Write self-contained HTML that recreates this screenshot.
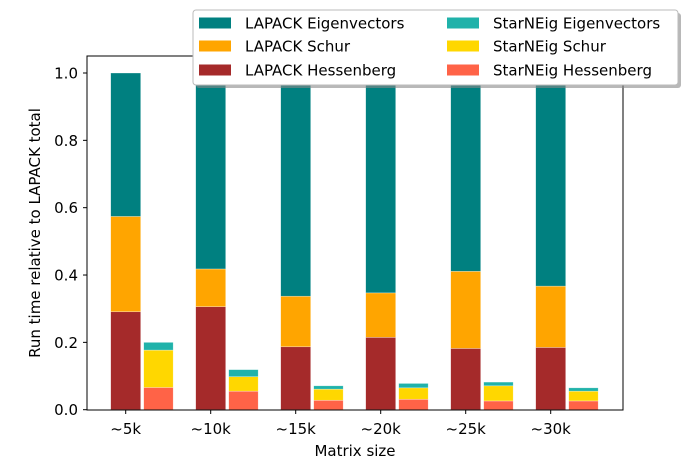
<!DOCTYPE html>
<html><head><meta charset="utf-8"><style>
body{margin:0;background:#fff;}
svg text{font-family:"DejaVu Sans","Liberation Sans",sans-serif;fill:#000;}
</style></head><body>
<svg id="chart" width="692" height="461" viewBox="0 0 692 461" xmlns="http://www.w3.org/2000/svg">
<g id="bars"></g>
<rect x="87" y="56" width="536" height="354" fill="none" stroke="#000" stroke-width="1"/>
<g id="axes"></g>
<text x="355" y="456" text-anchor="middle" font-size="15">Matrix size</text>
<text transform="translate(40,233) rotate(-90)" text-anchor="middle" font-size="15">Run time relative to LAPACK total</text>
<g id="legend"></g>
</svg>
<script>
const categories = ["~5k","~10k","~15k","~20k","~25k","~30k"];
const lapackHess = [0.291,0.306,0.187,0.215,0.182,0.185];
const lapackSchurTop = [0.574,0.418,0.337,0.347,0.411,0.367];
const lapackEigTop = [1.0,1.0,1.0,1.0,1.0,1.0];
const starHess = [0.066,0.055,0.028,0.031,0.026,0.026];
const starSchurTop = [0.177,0.098,0.061,0.065,0.071,0.055];
const starEigTop = [0.200,0.119,0.071,0.078,0.082,0.065];
const yTicks = [0,0.2,0.4,0.6,0.8,1.0];
const yTickLabels = ["0.0","0.2","0.4","0.6","0.8","1.0"];

const NS="http://www.w3.org/2000/svg";
const y0=409.7, yScale=336.7;
function yPos(v){return y0 - v*yScale;}
function xPos(i){return 125.7 + i*85;}
function mk(tag,attrs,parent){const e=document.createElementNS(NS,tag);for(const k in attrs)e.setAttribute(k,attrs[k]);parent.appendChild(e);return e;}
const bars=document.getElementById('bars'), axes=document.getElementById('axes'), legend=document.getElementById('legend');
const C={le:"#008080",ls:"#ffa500",lh:"#a52a2a",se:"#20b2aa",ss:"#ffd700",sh:"#ff6347"};
function seg(x,w,lo,hi,col,name){
  const r=mk('rect',{x:x,y:yPos(hi),width:w,height:yPos(lo)-yPos(hi),fill:col,stroke:"#fff","stroke-width":0.6,"stroke-opacity":0.5},bars);
  
  
}
categories.forEach((c,i)=>{
  const lx=xPos(i)-15, sx=xPos(i)+18;
  seg(lx,30,0,lapackHess[i],C.lh,'bar-lapack-hessenberg');
  seg(lx,30,lapackHess[i],lapackSchurTop[i],C.ls,'bar-lapack-schur');
  seg(lx,30,lapackSchurTop[i],lapackEigTop[i],C.le,'bar-lapack-eigenvectors');
  seg(sx,29.5,0,starHess[i],C.sh,'bar-starneig-hessenberg');
  seg(sx,29.5,starHess[i],starSchurTop[i],C.ss,'bar-starneig-schur');
  seg(sx,29.5,starSchurTop[i],starEigTop[i],C.se,'bar-starneig-eigenvectors');
  const t=mk('line',{x1:xPos(i),x2:xPos(i),y1:410,y2:414,stroke:"#000"},axes);
  
  
  const l=mk('text',{x:xPos(i),y:434,"text-anchor":"middle","font-size":15},axes);
  l.textContent=c;
  
  
});
yTicks.forEach((v,i)=>{
  const t=mk('line',{x1:83,x2:87,y1:yPos(v),y2:yPos(v),stroke:"#000"},axes);
  
  
  const l=mk('text',{x:78,y:yPos(v)+5.5,"text-anchor":"end","font-size":15},axes);
  l.textContent=yTickLabels[i];
  
  
});
const sh=mk('rect',{x:196,y:13,width:485,height:75,rx:3,fill:"#888","fill-opacity":0.6},legend);


const bx=mk('rect',{x:193,y:10,width:485,height:75,rx:3,fill:"#fff",stroke:"#bbb"},legend);


const entries=[["LAPACK Eigenvectors",C.le,199,23],["LAPACK Schur",C.ls,199,46],["LAPACK Hessenberg",C.lh,199,70],
["StarNEig Eigenvectors",C.se,447,23],["StarNEig Schur",C.ss,447,46],["StarNEig Hessenberg",C.sh,447,70]];
entries.forEach(e=>{
  const g=mk('g',{},legend);
  
  
  mk('rect',{x:e[2],y:e[3]-5.5,width:32,height:11,fill:e[1]},g);
  const t=mk('text',{x:e[2]+46,y:e[3]+5.5,"font-size":15},g);
  t.textContent=e[0];
});
</script>
</body></html>
